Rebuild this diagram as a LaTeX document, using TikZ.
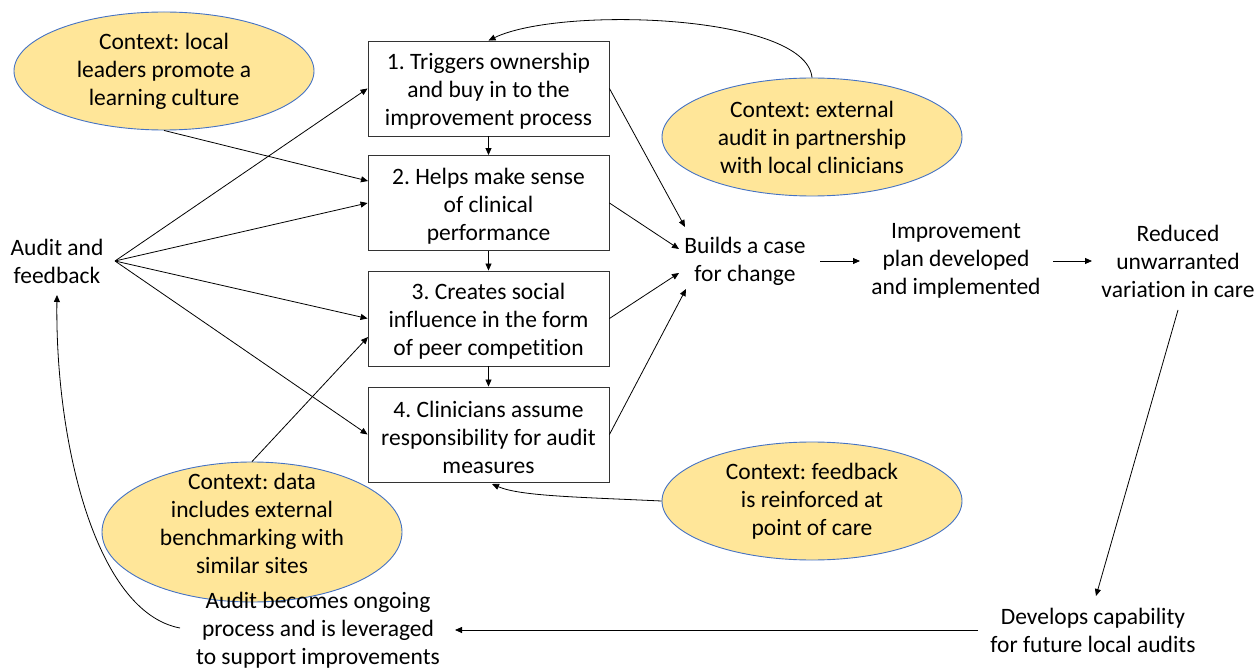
\documentclass[tikz,border=0pt]{standalone}
\usepackage{fontspec}
\setmainfont{Carlito}[Ligatures=NoCommon]
\usetikzlibrary{shapes.geometric,arrows.meta,calc}
\definecolor{ctxfill}{HTML}{FFE699}
\definecolor{ctxline}{HTML}{4472C4}
\frenchspacing
\newcommand{\toppad}{\rule{0pt}{22pt}}
\begin{document}
\begin{tikzpicture}[x=1pt,y=-1pt,
  every node/.style={font=\fontsize{23.5}{28}\selectfont, align=center, inner sep=0pt},
  ctx/.style={ellipse, draw=ctxline, line width=0.9pt, fill=ctxfill, minimum width=300pt, minimum height=118pt},
  stepbox/.style={rectangle, draw=black!80, line width=0.9pt, minimum width=241pt, minimum height=95pt},
  arr/.style={-{Triangle[length=7pt,width=6pt]}, line width=0.8pt, black},
]
\useasboundingbox (0,0) rectangle (1258,668);

% context ellipses
\node[ctx] (e1) at (164,71) {Context: local\\leaders promote a\\learning culture};
\node[ctx] (e2) at (812,137) {Context: external\\audit in partnership\\with local clinicians};
\node[ctx, minimum height=140pt] (e3) at (252,532) {};
\node (e3t) at (252,523) {Context: data\\includes external\\benchmarking with\\similar sites};
\node[ctx] (e4) at (812,501) {Context: feedback\\is reinforced at\\point of care};

% mechanism boxes
\node[stepbox] (b1) at (488.5,88.5) {\toppad 1. Triggers ownership\\and buy in to the\\improvement process};
\node[stepbox] (b2) at (488.5,203) {\toppad 2. Helps make sense\\of clinical\\performance};
\node[stepbox] (b3) at (488.5,318.5) {\toppad 3. Creates social\\influence in the form\\of peer competition};
\node[stepbox] (b4) at (488.5,434.5) {\toppad 4. Clinicians assume\\responsibility for audit\\measures};

% plain text nodes
\node (af) at (57,261) {Audit and\\feedback};
\node (bc) at (745,261) {Builds a case\\for change};
\node (ip) at (956,261) {Improvement\\plan developed\\and implemented};
\node (rv) at (1178,261) {Reduced\\unwarranted\\variation in care};
\node (dc) at (1093,630) {Develops capability\\for future local audits};
\node (ab) at (318,630) {Audit becomes ongoing\\process and is leveraged\\to support improvements};

% named connector end points
\coordinate (afo) at (115,261);
\coordinate (b2a) at (368,181);
\coordinate (b3a) at (368,337);
\coordinate (bc1) at (685,227);
\coordinate (bc2) at (679,249);
\coordinate (bc3) at (679,273);
\coordinate (bc4) at (686,289);
\coordinate (bcr) at (820,261);
\coordinate (ipl) at (860,261);
\coordinate (ipr) at (1053,261);
\coordinate (rvl) at (1092,261);
\coordinate (rvb) at (1178,310);
\coordinate (dct) at (1096,596);
\coordinate (dcl) at (978,630);
\coordinate (abr) at (455,630);
\coordinate (abl) at (180,628);
\coordinate (afb) at (57,295);
\coordinate (b4b) at (492,484);

% audit and feedback to boxes
\draw[arr] (afo) -- (b1.west);
\draw[arr] (afo) -- (b2.west);
\draw[arr] (afo) -- (b3.west);
\draw[arr] (afo) -- (b4.west);

% contexts to boxes
\draw[arr] (e1.south) -- (b2a);
\draw[arr] (e3.north) -- (b3a);
\draw[arr] (e2.north) .. controls (806,14) and (560,6) .. (b1.north);
\draw[arr] (e4.west) .. controls (575,497) and (520,496) .. (b4b);

% chain of boxes
\draw[arr] (b1.south) -- (b2.north);
\draw[arr] (b2.south) -- (b3.north);
\draw[arr] (b3.south) -- (b4.north);

% boxes to builds a case
\draw[arr] (b1.east) -- (bc1);
\draw[arr] (b2.east) -- (bc2);
\draw[arr] (b3.east) -- (bc3);
\draw[arr] (b4.east) -- (bc4);

% outcome chain
\draw[arr] (bcr) -- (ipl);
\draw[arr] (ipr) -- (rvl);
\draw[arr] (rvb) -- (dct);
\draw[arr] (dcl) -- (abr);
\draw[arr] (abl) .. controls (95,612) and (55,440) .. (afb);
\end{tikzpicture}
\end{document}
